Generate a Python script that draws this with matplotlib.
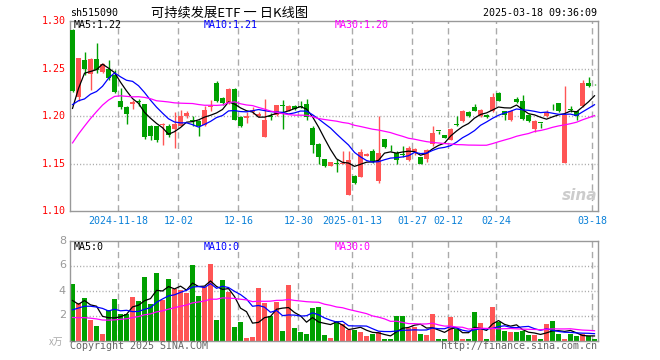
import numpy as np
import pandas as pd
import matplotlib
matplotlib.use('Agg')
import matplotlib.pyplot as plt

# daily candles, 2024-11-06 .. 2025-03-18
opens = [1.291, 1.2205, 1.2594, 1.244, 1.260, 1.2465, 1.250, 1.243, 1.2153, 1.210,
         1.2125, 1.2153, 1.2125, 1.189, 1.189, 1.1905, 1.189, 1.1865, 1.190, 1.1997,
         1.1958, 1.1944, 1.1910, 1.2094, 1.235, 1.2194, 1.2135, 1.2285, 1.1990, 1.1975,
         1.2038, 1.1997, 1.1781, 1.1997, 1.2007, 1.2118, 1.2056, 1.2101, 1.2097, 1.2128,
         1.1875, 1.1701, 1.1545, 1.1476, 1.1500, 1.1493, 1.1170, 1.1372, 1.1361, 1.1583,
         1.1632, 1.1316, 1.1753, 1.1694, 1.1615, 1.1590, 1.1538, 1.1618, 1.1566, 1.1552,
         1.1701, 1.1843, 1.1795, 1.1747, 1.1910, 1.1944, 1.2045, 1.2090, 1.1997, 1.2014,
         1.2049, 1.2247, 1.2049, 1.1962, 1.2180, 1.2153, 1.2014, 1.1858, 1.1927, 1.1997,
         1.2094, 1.2135, 1.1503, 1.2069, 1.2049, 1.2101, 1.2351, 1.2337]
highs = [1.292, 1.261, 1.267, 1.261, 1.277, 1.256, 1.259, 1.248, 1.229, 1.211,
         1.217, 1.2175, 1.213, 1.1905, 1.190, 1.1925, 1.192, 1.2045, 1.2066, 1.205,
         1.200, 1.1958, 1.2108, 1.217, 1.2365, 1.220, 1.229, 1.229, 1.200, 1.204,
         1.209, 1.2038, 1.218, 1.2031, 1.2115, 1.217, 1.2111, 1.2118, 1.216, 1.2177,
         1.1899, 1.1719, 1.155, 1.152, 1.1545, 1.1632, 1.1632, 1.138, 1.1649, 1.1611,
         1.1649, 1.1997, 1.176, 1.1694, 1.1632, 1.1684, 1.1684, 1.166, 1.157, 1.1649,
         1.190, 1.1843, 1.180, 1.187, 1.1997, 1.2059, 1.205, 1.2128, 1.2073, 1.202,
         1.224, 1.225, 1.2049, 1.206, 1.2205, 1.2222, 1.2024, 1.196, 1.1927, 1.2066,
         1.2125, 1.2135, 1.2319, 1.2108, 1.205, 1.2378, 1.2410, 1.2340]
lows = [1.225, 1.2153, 1.243, 1.2274, 1.245, 1.245, 1.238, 1.224, 1.207, 1.192,
        1.207, 1.211, 1.176, 1.175, 1.173, 1.170, 1.178, 1.1667, 1.189, 1.198,
        1.189, 1.179, 1.190, 1.205, 1.215, 1.212, 1.213, 1.1955, 1.188, 1.1925,
        1.2024, 1.1990, 1.178, 1.1955, 1.2003, 1.1858, 1.205, 1.2066, 1.2087, 1.196,
        1.1615, 1.1493, 1.146, 1.1470, 1.1406, 1.1490, 1.1167, 1.1285, 1.1355, 1.158,
        1.151, 1.1300, 1.1667, 1.1632, 1.149, 1.1566, 1.153, 1.159, 1.1496, 1.1517,
        1.168, 1.181, 1.1764, 1.1743, 1.189, 1.1937, 1.199, 1.205, 1.199, 1.198,
        1.204, 1.216, 1.1955, 1.195, 1.214, 1.196, 1.194, 1.183, 1.1875, 1.199,
        1.2066, 1.204, 1.1503, 1.2038, 1.1962, 1.2097, 1.2302, 1.2330]
closes = [1.226, 1.2608, 1.249, 1.260, 1.248, 1.2552, 1.2396, 1.2257, 1.2094, 1.2024,
          1.2146, 1.2146, 1.178, 1.1788, 1.175, 1.192, 1.180, 1.192, 1.2003, 1.2031,
          1.1951, 1.189, 1.2066, 1.2101, 1.2153, 1.2135, 1.2285, 1.1955, 1.1899, 1.2003,
          1.2066, 1.2017, 1.1955, 1.1993, 1.2111, 1.2101, 1.2108, 1.2076, 1.2094, 1.1986,
          1.1694, 1.1573, 1.1469, 1.1517, 1.1493, 1.1510, 1.1535, 1.1295, 1.1625, 1.1604,
          1.1528, 1.1615, 1.1674, 1.1691, 1.1538, 1.1587, 1.166, 1.1649, 1.1500, 1.1639,
          1.1823, 1.1840, 1.1771, 1.1868, 1.1906, 1.2056, 1.2003, 1.2056, 1.2059, 1.199,
          1.2205, 1.2163, 1.2014, 1.2049, 1.2146, 1.1969, 1.1944, 1.1951, 1.1924, 1.2045,
          1.209, 1.2049, 1.2014, 1.2066, 1.1997, 1.2351, 1.2319, 1.2333]
volumes = [4.55, 3.0, 3.4, 1.62, 1.15, 0.5, 2.45, 3.3, 2.1, 2.1,
           3.48, 3.15, 5.08, 2.95, 5.4, 3.22, 4.92, 4.15, 4.05, 3.8,
           6.05, 3.55, 4.3, 6.1, 1.62, 4.85, 3.9, 1.1, 1.47, 0.2,
           0.28, 4.2, 2.98, 1.98, 3.06, 0.73, 4.43, 0.99, 0.67, 0.5,
           2.6, 2.67, 0.42, 0.18, 1.55, 1.35, 0.88, 0.82, 0.69, 0.37,
           0.5, 0.69, 0.14, 0.14, 1.97, 1.97, 1.0, 1.06, 0.5, 0.45,
           2.1, 0.1, 0.1, 1.87, 0.95, 0.1, 0.1, 2.27, 1.4, 0.15,
           2.67, 1.48, 0.76, 0.68, 0.68, 0.76, 0.44, 0.44, 0.1, 1.32,
           1.56, 0.5, 0.15, 0.5, 0.35, 0.5, 0.35, 0.12]

# sessions before the window (only feed the moving averages)
prior_close = [0.98, 1.00, 1.02, 1.03, 1.05, 1.08, 1.11,
               1.19, 1.22, 1.23, 1.21, 1.20, 1.22, 1.24, 1.21, 1.20, 1.22, 1.21, 1.21, 1.20,
               1.22, 1.23, 1.21, 1.22, 1.20,
               1.1555, 1.169, 1.251, 1.2385]
prior_vol = [3.5, 3.2, 3.0, 2.9, 3.1, 2.8, 2.55,
             0.9, 0.7, 0.6, 0.8, 0.7, 0.9, 0.6, 0.7, 0.8, 0.7, 0.6, 0.8, 0.85,
             1.5, 2.0, 1.6, 1.8, 1.6,
             4.5, 1.9, 3.37, 1.68]

tick_pos = [8, 18, 28, 38, 47, 57, 63, 71, 87]
tick_labels = ['2024-11-18', '12-02', '12-16', '12-30', '2025-01-13',
               '01-27', '02-12', '02-24', '03-18']

RED = '#ff5555'
GREEN = '#00a000'
GRID = '#aaaaaa'
mono = 'DejaVu Sans Mono'
plt.rcParams['lines.scale_dashes'] = False

n = len(closes)
x = np.arange(n)
o = np.array(opens)
c = np.array(closes)
up = c >= o
col = np.where(up, RED, GREEN)


def ma(prior, vals, k):
    s = pd.Series(prior + vals).rolling(k).mean()
    return s.values[len(prior):]


W, H = 660, 360
fig = plt.figure(figsize=(6.6, 3.6), dpi=100)
ax = fig.add_axes([70 / W, 1 - 211 / H, 528 / W, 190 / H])
axv = fig.add_axes([70 / W, 1 - 340.5 / H, 528 / W, 100 / H])

xl = (-0.42, 87.58)
for a in (ax, axv):
    a.set_xlim(*xl)
    for s in a.spines.values():
        s.set_color('#999999')
        s.set_linewidth(1)
    a.set_xticks([])
    a.set_yticks([])
    for p in tick_pos:
        a.axvline(p - 0.36, color=GRID, lw=1, ls=(0, (4.5, 3)), zorder=0)

ax.set_ylim(1.10, 1.30)
for v in [1.15, 1.20, 1.25]:
    ax.axhline(v, color=GRID, lw=1, ls=(0, (0.8, 1.5)), zorder=0)
axv.set_ylim(0, 8)
for v in [2, 4, 6]:
    axv.axhline(v, color=GRID, lw=1, ls=(0, (0.8, 1.5)), zorder=0)

# candles
ax.vlines(x, lows, highs, colors=col, lw=1, zorder=2)
body = np.maximum(np.abs(c - o), 0.0009)
ax.bar(x, body, bottom=np.minimum(o, c), width=0.75, color=col, lw=0, zorder=3)

ax.plot(x, ma(prior_close, closes, 5), color='black', lw=0.9, zorder=4)
ax.plot(x, ma(prior_close, closes, 10), color='#0000ff', lw=0.9, zorder=4)
ax.plot(x, ma(prior_close, closes, 30), color='#ff00ff', lw=0.9, zorder=4)

# volume
axv.bar(x, volumes, width=0.8, color=col, lw=0, zorder=2)
axv.plot(x, ma(prior_vol, volumes, 5), color='black', lw=0.9, zorder=4)
axv.plot(x, ma(prior_vol, volumes, 10), color='#0000ff', lw=0.9, zorder=4)
axv.plot(x, ma(prior_vol, volumes, 30), color='#ff00ff', lw=0.9, zorder=4)


def t(px, py, s, **kw):
    kw.setdefault('family', mono)
    kw.setdefault('fontsize', 7.2)
    kw.setdefault('va', 'center')
    fig.text(px / W, 1 - py / H, s, **kw)


t(70, 13, 'sh515090')
t(230, 13, '可持续发展ETF 一 日K线图', ha='center', fontsize=9.5,
  family=['Noto Sans CJK SC', 'DejaVu Sans'])
t(597, 13, '2025-03-18 09:36:09', ha='right')

for v in [1.30, 1.25, 1.20, 1.15, 1.10]:
    py = 211 - (v - 1.10) * 950
    t(66, py, '%.2f' % v, ha='right', color='red')
for p, lab in zip(tick_pos, tick_labels):
    t(72.5 + 6 * p - 2, 221, lab, ha='center', color='#0a80d8')
for v in [8, 6, 4, 2]:
    t(66, 340.5 - v * 12.5, str(v), ha='right', color='#999999',
      family='DejaVu Sans', fontsize=8)
t(63, 342, 'x万', ha='right', color='#aaaaaa', fontsize=7,
  family=['Noto Sans CJK SC', 'DejaVu Sans'])

t(74, 25.5, 'MA5:1.22', color='black')
t(204, 25.5, 'MA10:1.21', color='#0000ff')
t(335, 25.5, 'MA30:1.20', color='#ff00ff')
t(74, 246.5, 'MA5:0', color='black')
t(204, 246.5, 'MA10:0', color='#0000ff')
t(335, 246.5, 'MA30:0', color='#ff00ff')

t(70, 346, 'Copyright 2025 SINA.COM', color='#666666')
t(597, 346, 'http://finance.sina.com.cn', ha='right', color='#666666')
t(580, 196, 'sina', ha='center', color='#cccccc', family='DejaVu Sans',
  fontsize=11, style='italic', weight='bold')

fig.savefig('out.png', dpi=100)
